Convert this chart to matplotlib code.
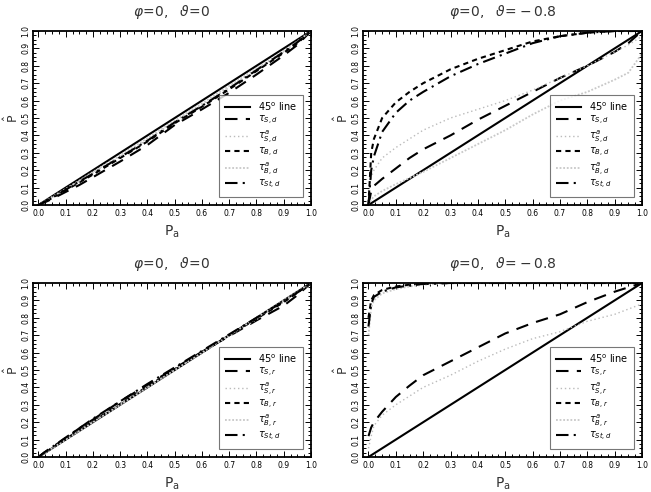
import numpy as np
import matplotlib
matplotlib.use("Agg")
import matplotlib.pyplot as plt
from matplotlib.ticker import MultipleLocator

# ---------------- data ----------------
x_grid = [0.0, 0.01, 0.02, 0.05, 0.1, 0.15, 0.2, 0.3, 0.4, 0.5, 0.6, 0.7, 0.8, 0.9, 0.95, 1.0]
diag = x_grid

# top-left: phi=0, theta=0 (d)
tl_S   = [0.0, 0.006, 0.013, 0.035, 0.075, 0.115, 0.16, 0.25, 0.345, 0.46, 0.55, 0.645, 0.75, 0.86, 0.92, 1.0]
tl_Sa  = [0.0, 0.008, 0.016, 0.043, 0.09, 0.135, 0.185, 0.28, 0.375, 0.48, 0.575, 0.675, 0.78, 0.88, 0.935, 1.0]
tl_B   = [0.0, 0.007, 0.015, 0.04, 0.085, 0.13, 0.175, 0.27, 0.365, 0.47, 0.565, 0.665, 0.77, 0.875, 0.93, 1.0]
tl_Ba  = [0.0, 0.009, 0.018, 0.046, 0.093, 0.14, 0.19, 0.285, 0.385, 0.485, 0.585, 0.685, 0.785, 0.885, 0.94, 1.0]
tl_St  = [0.0, 0.008, 0.016, 0.042, 0.088, 0.135, 0.18, 0.275, 0.37, 0.475, 0.57, 0.67, 0.775, 0.88, 0.935, 1.0]

# top-right: phi=0, theta=-0.8 (d)
tr_S   = [0.0, 0.08, 0.11, 0.15, 0.21, 0.27, 0.32, 0.40, 0.49, 0.57, 0.65, 0.73, 0.80, 0.88, 0.93, 1.0]
tr_Sa  = [0.08, 0.16, 0.2, 0.27, 0.33, 0.38, 0.43, 0.5, 0.55, 0.6, 0.66, 0.73, 0.8, 0.88, 0.92, 0.97]
tr_B   = [0.0, 0.3, 0.38, 0.5, 0.59, 0.65, 0.70, 0.78, 0.84, 0.89, 0.94, 0.97, 0.99, 1.0, 1.0, 1.0]
tr_Ba  = [0.0, 0.03, 0.05, 0.08, 0.12, 0.155, 0.19, 0.27, 0.35, 0.43, 0.52, 0.6, 0.65, 0.72, 0.76, 0.87]
tr_St  = [0.0, 0.2, 0.28, 0.42, 0.53, 0.60, 0.65, 0.74, 0.81, 0.87, 0.93, 0.97, 0.99, 1.0, 1.0, 1.0]

# bottom-left: phi=0, theta=0 (r)
bl_S   = [0.0, 0.012, 0.024, 0.055, 0.11, 0.165, 0.215, 0.32, 0.415, 0.51, 0.605, 0.695, 0.785, 0.87, 0.93, 1.0]
bl_Sa  = [0.0, 0.01, 0.02, 0.05, 0.1, 0.15, 0.2, 0.3, 0.4, 0.5, 0.6, 0.695, 0.79, 0.89, 0.94, 1.0]
bl_B   = [0.0, 0.01, 0.021, 0.052, 0.103, 0.155, 0.205, 0.305, 0.405, 0.505, 0.6, 0.7, 0.795, 0.89, 0.945, 1.0]
bl_Ba  = [0.0, 0.01, 0.02, 0.05, 0.1, 0.15, 0.2, 0.3, 0.4, 0.5, 0.6, 0.7, 0.8, 0.9, 0.95, 1.0]
bl_St  = [0.0, 0.012, 0.025, 0.057, 0.112, 0.165, 0.22, 0.32, 0.42, 0.515, 0.61, 0.705, 0.8, 0.895, 0.945, 1.0]

# bottom-right: phi=0, theta=-0.8 (r)
br_S   = [0.12, 0.17, 0.2, 0.26, 0.345, 0.41, 0.47, 0.55, 0.63, 0.71, 0.77, 0.82, 0.89, 0.95, 0.975, 1.0]
br_Sa  = [0.05, 0.12, 0.18, 0.24, 0.3, 0.35, 0.4, 0.47, 0.55, 0.62, 0.68, 0.72, 0.78, 0.82, 0.85, 0.88]
br_B   = [0.8, 0.9, 0.93, 0.96, 0.98, 0.99, 0.995, 1.0, 1.0, 1.0, 1.0, 1.0, 1.0, 1.0, 1.0, 1.0]
br_Ba  = [0.7, 0.86, 0.9, 0.94, 0.965, 0.98, 0.99, 1.0, 1.0, 1.0, 1.0, 1.0, 1.0, 1.0, 1.0, 1.0]
br_St  = [0.75, 0.88, 0.92, 0.95, 0.975, 0.985, 0.995, 1.0, 1.0, 1.0, 1.0, 1.0, 1.0, 1.0, 1.0, 1.0]

titles = [r"$\varphi\!=\!0,\ \ \vartheta\!=\!0$", r"$\varphi\!=\!0,\ \ \vartheta\!=\!-0.8$",
          r"$\varphi\!=\!0,\ \ \vartheta\!=\!0$", r"$\varphi\!=\!0,\ \ \vartheta\!=\!-0.8$"]
labels_d = ["45$^{\\rm o}$ line", r"$\tau_{S,d}$", r"$\tau^{a}_{S,d}$", r"$\tau_{B,d}$", r"$\tau^{a}_{B,d}$", r"$\tau_{St,d}$"]
labels_r = ["45$^{\\rm o}$ line", r"$\tau_{S,r}$", r"$\tau^{a}_{S,r}$", r"$\tau_{B,r}$", r"$\tau^{a}_{B,r}$", r"$\tau_{St,d}$"]
tick_vals = [0.0, 0.1, 0.2, 0.3, 0.4, 0.5, 0.6, 0.7, 0.8, 0.9, 1.0]

panels = [
    (tl_S, tl_Sa, tl_B, tl_Ba, tl_St, labels_d),
    (tr_S, tr_Sa, tr_B, tr_Ba, tr_St, labels_d),
    (bl_S, bl_Sa, bl_B, bl_Ba, bl_St, labels_r),
    (br_S, br_Sa, br_B, br_Ba, br_St, labels_r),
]

plt.rcParams['mathtext.fontset'] = 'dejavusans'
plt.rcParams['font.family'] = ['DejaVu Sans']

fig = plt.figure(figsize=(6.51, 4.92), dpi=100)
W, H = 651.0, 492.0
boxes = [(33, 31, 311, 205), (363, 31, 642, 205), (33, 283, 311, 457), (363, 283, 642, 457)]

for i, (box, pan) in enumerate(zip(boxes, panels)):
    l, t, r, b = box
    ax = fig.add_axes([l / W, 1 - b / H, (r - l) / W, (b - t) / H])
    S, Sa, B, Ba, St, labs = pan
    ax.plot(x_grid, diag, color='black', lw=1.5, ls='-', label=labs[0])
    ax.plot(x_grid, S, color='black', lw=1.5, ls=(0, (6, 4)), label=labs[1])
    ax.plot(x_grid, Sa, color='#bbbbbb', lw=1.0, ls=(0, (1, 2)), label=labs[2])
    ax.plot(x_grid, B, color='black', lw=1.5, ls=(0, (2.5, 2)), label=labs[3])
    ax.plot(x_grid, Ba, color='#c8c8c8', lw=1.3, ls=(0, (1, 1)), label=labs[4])
    ax.plot(x_grid, St, color='black', lw=1.5, ls=(0, (6, 2.5, 1, 2.5)), label=labs[5])
    ax.set_xlim(-0.02, 1.0)
    ax.set_ylim(0.0, 1.0)
    ax.set_xticks(tick_vals)
    ax.set_yticks(tick_vals)
    ax.set_xticklabels([f"{v:.1f}" for v in tick_vals], fontsize=5.5)
    ax.set_yticklabels([f"{v:.1f}" for v in tick_vals], fontsize=5.5, rotation=90, va='center')
    ax.xaxis.set_minor_locator(MultipleLocator(0.025))
    ax.yaxis.set_minor_locator(MultipleLocator(0.025))
    ax.tick_params(which='both', direction='in', top=True, right=True, width=0.7)
    ax.tick_params(which='major', length=4, pad=3)
    ax.tick_params(axis='y', which='major', pad=2)
    ax.tick_params(which='minor', length=2)
    for sp in ax.spines.values():
        sp.set_linewidth(1.3)
    ax.set_title(titles[i], fontsize=10, pad=11, color='#333333')
    ax.set_xlabel(r"P$_{\rm a}$", fontsize=10, labelpad=4, color='#333333')
    ax.set_ylabel(r"$\hat{\rm P}$", fontsize=9, labelpad=0, color='#333333')
    leg = ax.legend(loc='lower right', fontsize=7, handlelength=2.6, frameon=True, fancybox=False,
                    borderpad=0.6, labelspacing=0.12, handletextpad=0.8, borderaxespad=0.8)
    leg.get_frame().set_edgecolor('#555555')
    leg.get_frame().set_linewidth(0.8)

fig.savefig("out.png", dpi=100)
